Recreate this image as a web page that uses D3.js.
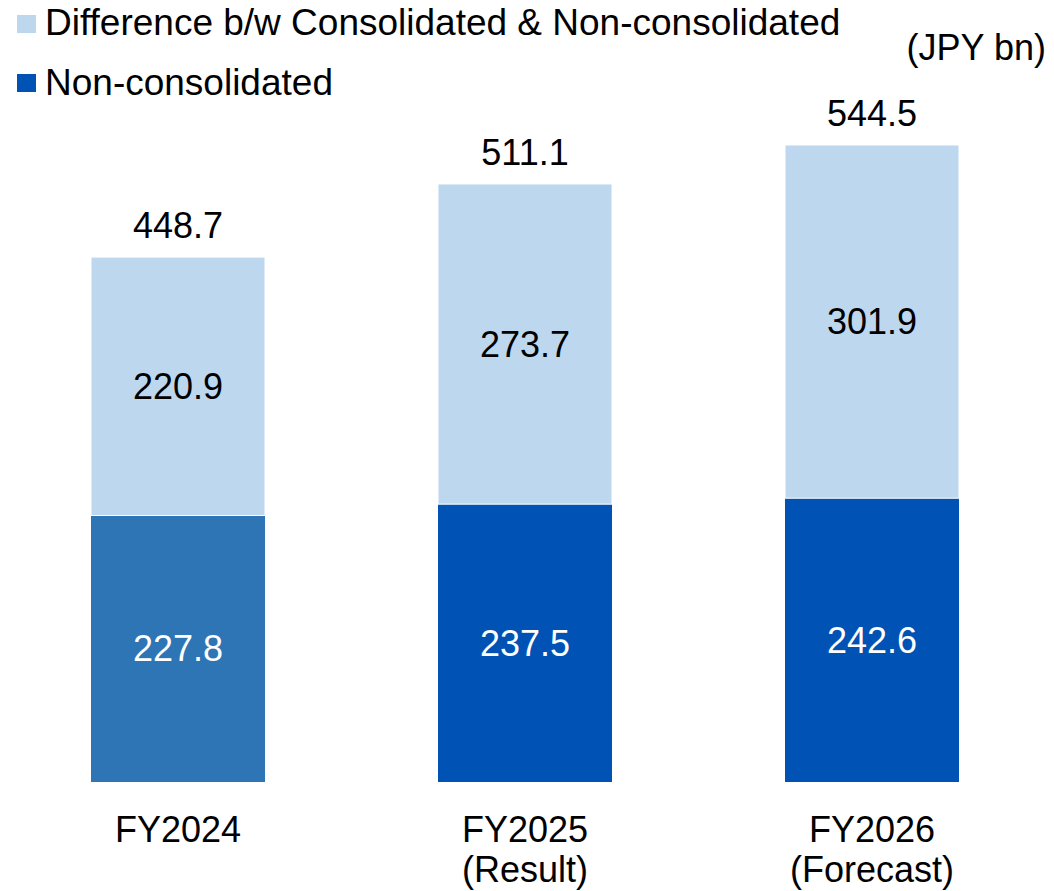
<!DOCTYPE html>
<html>
<head>
<meta charset="utf-8">
<script src="https://cdn.jsdelivr.net/npm/d3@7"></script>
<style>
  body { margin: 0; background: #fff; }
  svg { font-family: "Liberation Sans", Arial, sans-serif; }
</style>
</head>
<body>
<svg id="chart" width="1054" height="891"></svg>
<script>
const width = 1054;
const height = 891;

// data
const categories = ["FY2024", "FY2025\n(Result)", "FY2026\n(Forecast)"];
const nonConsolidated = [227.8, 237.5, 242.6];
const difference = [220.9, 273.7, 301.9];
const totals = [448.7, 511.1, 544.5];
const seriesNames = ["Difference b/w Consolidated & Non-consolidated", "Non-consolidated"];

const lightColor = "#BDD7EE";
const darkColors = ["#2E75B6", "#0052B4", "#0052B4"];
const legendDark = "#0052B4";

const svg = d3.select("#chart");

// scales
const x = d3.scaleBand()
  .domain(categories)
  .range([4.25, 1045.75])
  .paddingInner(1 - 174 / 347)
  .paddingOuter(0.25);

const y = d3.scaleLinear()
  .domain([0, 544.5])
  .range([782, 145]);

const g = svg.append("g");

// bars
categories.forEach((c, i) => {
  const x0 = x(c);
  // non-consolidated
  g.append("rect")
    .attr("x", x0)
    .attr("y", y(nonConsolidated[i]))
    .attr("width", x.bandwidth())
    .attr("height", y(0) - y(nonConsolidated[i]))
    .attr("fill", darkColors[i]);
  // difference
  g.append("rect")
    .attr("x", x0)
    .attr("y", y(nonConsolidated[i] + difference[i]))
    .attr("width", x.bandwidth())
    .attr("height", y(nonConsolidated[i]) - y(nonConsolidated[i] + difference[i]))
    .attr("fill", lightColor)
    .attr("stroke", "#fff")
    .attr("stroke-width", 1);

  const cx = x0 + x.bandwidth() / 2;

  // segment labels
  g.append("text")
    .attr("x", cx)
    .attr("y", (y(0) + y(nonConsolidated[i])) / 2)
    .attr("dy", "0.35em")
    .attr("text-anchor", "middle")
    .attr("font-size", 36)
    .attr("fill", "#fff")
    .text(nonConsolidated[i].toFixed(1));

  g.append("text")
    .attr("x", cx)
    .attr("y", (y(nonConsolidated[i]) + y(nonConsolidated[i] + difference[i])) / 2)
    .attr("dy", "0.35em")
    .attr("text-anchor", "middle")
    .attr("font-size", 36)
    .attr("fill", "#000")
    .text(difference[i].toFixed(1));

  // total label
  g.append("text")
    .attr("x", cx)
    .attr("y", y(totals[i]) - 19)
    .attr("text-anchor", "middle")
    .attr("font-size", 36)
    .attr("fill", "#000")
    .text(totals[i].toFixed(1));

  // category label
  const lines = c.split("\n");
  const t = g.append("text")
    .attr("text-anchor", "middle")
    .attr("font-size", 36)
    .attr("fill", "#000");
  lines.forEach((l, j) => {
    t.append("tspan")
      .attr("x", cx)
      .attr("y", 842 + j * 40)
      .text(l);
  });
});

// legend
const legend = svg.append("g");
[lightColor, legendDark].forEach((col, i) => {
  legend.append("rect")
    .attr("x", 17)
    .attr("y", 15 + i * 59)
    .attr("width", 19)
    .attr("height", 18)
    .attr("fill", col);
  legend.append("text")
    .attr("x", 45)
    .attr("y", 35 + i * 60)
    .attr("font-size", 37)
    .attr("fill", "#000")
    .text(seriesNames[i]);
});

// unit
svg.append("text")
  .attr("x", 1046)
  .attr("y", 60)
  .attr("text-anchor", "end")
  .attr("font-size", 36)
  .attr("fill", "#000")
  .text("(JPY bn)");
</script>
</body>
</html>
